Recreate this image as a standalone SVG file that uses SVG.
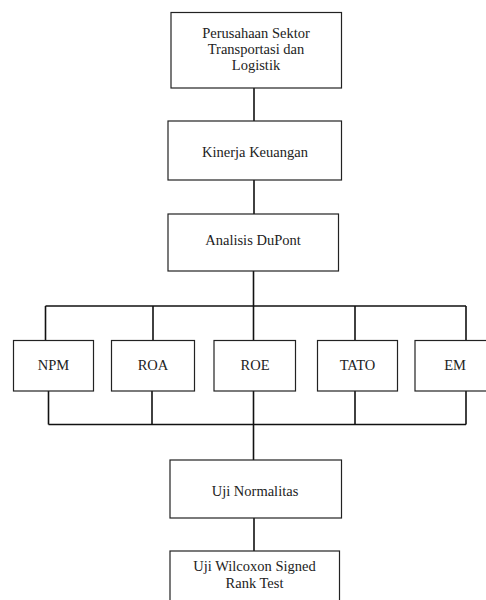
<svg xmlns="http://www.w3.org/2000/svg" width="486" height="600" viewBox="0 0 486 600">
<style>
rect.box{fill:#fff;stroke:#222;stroke-width:1.2}
.conn line{stroke:#111;stroke-width:1.6;fill:none}
</style>
<rect width="486" height="600" fill="#fff"/>
<g class="conn" id="connectors">
<line x1="254" y1="88" x2="254" y2="121"/>
<line x1="254" y1="180" x2="254" y2="214"/>
<line x1="253.5" y1="271" x2="253.5" y2="460"/>
<line x1="45.5" y1="306" x2="466" y2="306"/>
<line x1="45.5" y1="306" x2="45.5" y2="340"/>
<line x1="153" y1="306" x2="153" y2="340"/>
<line x1="355" y1="306" x2="355" y2="340"/>
<line x1="466" y1="306" x2="466" y2="340"/>
<line x1="48.5" y1="424.5" x2="466" y2="424.5"/>
<line x1="48.5" y1="391" x2="48.5" y2="424.5"/>
<line x1="152" y1="391" x2="152" y2="424.5"/>
<line x1="355" y1="391" x2="355" y2="424.5"/>
<line x1="466" y1="391" x2="466" y2="424.5"/>
<line x1="254" y1="518" x2="254" y2="551"/>
</g>
<g font-family="Liberation Serif, serif" font-size="14.5" fill="#222" text-anchor="middle">
<g id="n1"><rect class="box" x="171" y="12.5" width="170.5" height="75.5"/>
<text x="256" y="38">Perusahaan Sektor</text><text x="256" y="54">Transportasi dan</text><text x="256" y="70">Logistik</text></g>
<g id="n2"><rect class="box" x="168" y="121" width="173.5" height="59"/><text x="255" y="157">Kinerja Keuangan</text></g>
<g id="n3"><rect class="box" x="168" y="214" width="170.5" height="57"/><text x="253" y="245">Analisis DuPont</text></g>
<g id="n4"><rect class="box" x="13.5" y="340.5" width="80" height="50.5"/><text x="53.5" y="370">NPM</text></g>
<g id="n5"><rect class="box" x="111.5" y="340.5" width="83" height="50.5"/><text x="153" y="370">ROA</text></g>
<g id="n6"><rect class="box" x="214" y="340.5" width="81.5" height="50.5"/><text x="255" y="370">ROE</text></g>
<g id="n7"><rect class="box" x="317.5" y="340.5" width="80" height="50.5"/><text x="357.5" y="370">TATO</text></g>
<g id="n8"><rect class="box" x="415" y="340.5" width="82" height="50.5"/><text x="455" y="370">EM</text></g>
<g id="n9"><rect class="box" x="170" y="460" width="171.5" height="58"/><text x="255" y="496">Uji Normalitas</text></g>
<g id="n10"><rect class="box" x="170" y="551" width="169.5" height="60"/><text x="254.5" y="571">Uji Wilcoxon Signed</text><text x="254.5" y="588">Rank Test</text></g>
</g>
</svg>
